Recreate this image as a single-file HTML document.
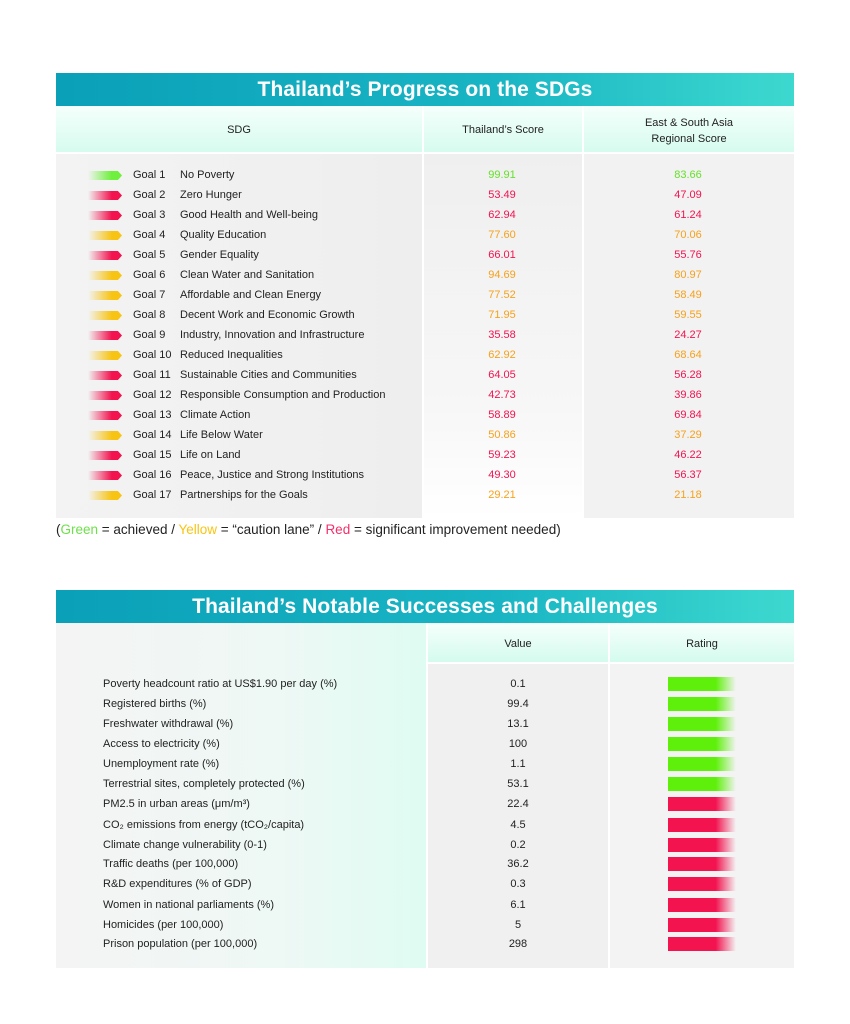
<!DOCTYPE html>
<html><head><meta charset="utf-8"><style>
body{margin:0;width:850px;height:1024px;background:#fff;position:relative;font-family:"Liberation Sans",sans-serif;overflow:hidden}
.ban{position:absolute;left:56px;width:738px;height:33px;background:linear-gradient(90deg,#0aa0b8,#19b5c4 60%,#3dd9cf);color:#fff;font-weight:bold;font-size:21px;text-align:center;line-height:34px;letter-spacing:0.1px}
.box{position:absolute}
.t{position:absolute;font-size:11px;color:#222;line-height:14px;white-space:nowrap}
.v{position:absolute;font-size:11px;line-height:14px;text-align:center;width:80px}
.g{color:#66e02a}.r{color:#f2134f}.y{color:#f7a11a}
.ar{position:absolute;left:88px;width:34px;height:9px;clip-path:polygon(0 0,88% 0,100% 50%,88% 100%,0 100%)}
.ag{background:linear-gradient(90deg,rgba(110,240,60,0),#6ef03c 70%)}
.agr{background:linear-gradient(90deg,rgba(242,19,79,0),#f2134f 70%)}
.ay{background:linear-gradient(90deg,rgba(248,196,20,0),#f8c414 70%)}
.bar{position:absolute;left:668px;width:68px;height:14px}
.bg{background:linear-gradient(90deg,#5ef00a 70%,rgba(94,240,10,0))}
.br{background:linear-gradient(90deg,#f2134f 70%,rgba(242,19,79,0))}
</style></head><body>
<div class="ban" style="top:73px">Thailand’s Progress on the SDGs</div>
<div class="box" style="left:56px;top:106px;width:366px;height:46px;background:linear-gradient(#f5fffc,#d6fbef)"></div>
<div class="box" style="left:424px;top:106px;width:158px;height:46px;background:linear-gradient(#f5fffc,#d6fbef)"></div>
<div class="box" style="left:584px;top:106px;width:210px;height:46px;background:linear-gradient(#f5fffc,#d6fbef)"></div>
<div class="t" style="left:56px;width:366px;text-align:center;top:123px">SDG</div>
<div class="t" style="left:424px;width:158px;text-align:center;top:123px">Thailand’s Score</div>
<div class="t" style="left:584px;width:210px;text-align:center;top:115px;line-height:16px;white-space:normal">East &amp; South Asia<br>Regional Score</div>
<div class="box" style="left:56px;top:154px;width:366px;height:364px;background:linear-gradient(90deg,#f3f3f3,#eeeeee)"></div>
<div class="box" style="left:424px;top:154px;width:158px;height:364px;background:linear-gradient(#efefef,#f7f7f7 70%,#fff)"></div>
<div class="box" style="left:584px;top:154px;width:210px;height:364px;background:#f2f2f2"></div>

<div class="ar ag" style="top:171px"></div><div class="t" style="left:133px;top:168px">Goal 1</div><div class="t" style="left:180px;top:168px">No Poverty</div><div class="v g" style="left:462px;top:168px">99.91</div><div class="v g" style="left:648px;top:168px">83.66</div>
<div class="ar agr" style="top:191px"></div><div class="t" style="left:133px;top:188px">Goal 2</div><div class="t" style="left:180px;top:188px">Zero Hunger</div><div class="v r" style="left:462px;top:188px">53.49</div><div class="v r" style="left:648px;top:188px">47.09</div>
<div class="ar agr" style="top:211px"></div><div class="t" style="left:133px;top:208px">Goal 3</div><div class="t" style="left:180px;top:208px">Good Health and Well-being</div><div class="v r" style="left:462px;top:208px">62.94</div><div class="v r" style="left:648px;top:208px">61.24</div>
<div class="ar ay" style="top:231px"></div><div class="t" style="left:133px;top:228px">Goal 4</div><div class="t" style="left:180px;top:228px">Quality Education</div><div class="v y" style="left:462px;top:228px">77.60</div><div class="v y" style="left:648px;top:228px">70.06</div>
<div class="ar agr" style="top:251px"></div><div class="t" style="left:133px;top:248px">Goal 5</div><div class="t" style="left:180px;top:248px">Gender Equality</div><div class="v r" style="left:462px;top:248px">66.01</div><div class="v r" style="left:648px;top:248px">55.76</div>
<div class="ar ay" style="top:271px"></div><div class="t" style="left:133px;top:268px">Goal 6</div><div class="t" style="left:180px;top:268px">Clean Water and Sanitation</div><div class="v y" style="left:462px;top:268px">94.69</div><div class="v y" style="left:648px;top:268px">80.97</div>
<div class="ar ay" style="top:291px"></div><div class="t" style="left:133px;top:288px">Goal 7</div><div class="t" style="left:180px;top:288px">Affordable and Clean Energy</div><div class="v y" style="left:462px;top:288px">77.52</div><div class="v y" style="left:648px;top:288px">58.49</div>
<div class="ar ay" style="top:311px"></div><div class="t" style="left:133px;top:308px">Goal 8</div><div class="t" style="left:180px;top:308px">Decent Work and Economic Growth</div><div class="v y" style="left:462px;top:308px">71.95</div><div class="v y" style="left:648px;top:308px">59.55</div>
<div class="ar agr" style="top:331px"></div><div class="t" style="left:133px;top:328px">Goal 9</div><div class="t" style="left:180px;top:328px">Industry, Innovation and Infrastructure</div><div class="v r" style="left:462px;top:328px">35.58</div><div class="v r" style="left:648px;top:328px">24.27</div>
<div class="ar ay" style="top:351px"></div><div class="t" style="left:133px;top:348px">Goal 10</div><div class="t" style="left:180px;top:348px">Reduced Inequalities</div><div class="v y" style="left:462px;top:348px">62.92</div><div class="v y" style="left:648px;top:348px">68.64</div>
<div class="ar agr" style="top:371px"></div><div class="t" style="left:133px;top:368px">Goal 11</div><div class="t" style="left:180px;top:368px">Sustainable Cities and Communities</div><div class="v r" style="left:462px;top:368px">64.05</div><div class="v r" style="left:648px;top:368px">56.28</div>
<div class="ar agr" style="top:391px"></div><div class="t" style="left:133px;top:388px">Goal 12</div><div class="t" style="left:180px;top:388px">Responsible Consumption and Production</div><div class="v r" style="left:462px;top:388px">42.73</div><div class="v r" style="left:648px;top:388px">39.86</div>
<div class="ar agr" style="top:411px"></div><div class="t" style="left:133px;top:408px">Goal 13</div><div class="t" style="left:180px;top:408px">Climate Action</div><div class="v r" style="left:462px;top:408px">58.89</div><div class="v r" style="left:648px;top:408px">69.84</div>
<div class="ar ay" style="top:431px"></div><div class="t" style="left:133px;top:428px">Goal 14</div><div class="t" style="left:180px;top:428px">Life Below Water</div><div class="v y" style="left:462px;top:428px">50.86</div><div class="v y" style="left:648px;top:428px">37.29</div>
<div class="ar agr" style="top:451px"></div><div class="t" style="left:133px;top:448px">Goal 15</div><div class="t" style="left:180px;top:448px">Life on Land</div><div class="v r" style="left:462px;top:448px">59.23</div><div class="v r" style="left:648px;top:448px">46.22</div>
<div class="ar agr" style="top:471px"></div><div class="t" style="left:133px;top:468px">Goal 16</div><div class="t" style="left:180px;top:468px">Peace, Justice and Strong Institutions</div><div class="v r" style="left:462px;top:468px">49.30</div><div class="v r" style="left:648px;top:468px">56.37</div>
<div class="ar ay" style="top:491px"></div><div class="t" style="left:133px;top:488px">Goal 17</div><div class="t" style="left:180px;top:488px">Partnerships for the Goals</div><div class="v y" style="left:462px;top:488px">29.21</div><div class="v y" style="left:648px;top:488px">21.18</div>

<div class="t" style="left:56px;top:522px;font-size:13.5px;line-height:16px">(<span style="color:#6ee04a">Green</span> = achieved / <span style="color:#f8c414">Yellow</span> = “caution lane” / <span style="color:#f2306a">Red</span> = significant improvement needed)</div>

<div class="ban" style="top:590px">Thailand’s Notable Successes and Challenges</div>
<div class="box" style="left:56px;top:623px;width:370px;height:345px;background:linear-gradient(90deg,#f4f4f4,#eef8f5 60%,#dffcf2)"></div>
<div class="box" style="left:428px;top:623px;width:180px;height:39px;background:linear-gradient(#f6fffc,#d4fbee)"></div>
<div class="box" style="left:610px;top:623px;width:184px;height:39px;background:linear-gradient(#f6fffc,#d4fbee)"></div>
<div class="box" style="left:428px;top:664px;width:180px;height:304px;background:#f0f0f0"></div>
<div class="box" style="left:610px;top:664px;width:184px;height:304px;background:#f3f3f3"></div>
<div class="t" style="left:428px;width:180px;text-align:center;top:637px">Value</div>
<div class="t" style="left:610px;width:184px;text-align:center;top:637px">Rating</div>

<div class="t" style="left:103px;top:677px">Poverty headcount ratio at US$1.90 per day (%)</div><div class="v" style="left:478px;top:677px;color:#222">0.1</div><div class="bar bg" style="top:677px"></div>
<div class="t" style="left:103px;top:697px">Registered births (%)</div><div class="v" style="left:478px;top:697px;color:#222">99.4</div><div class="bar bg" style="top:697px"></div>
<div class="t" style="left:103px;top:717px">Freshwater withdrawal (%)</div><div class="v" style="left:478px;top:717px;color:#222">13.1</div><div class="bar bg" style="top:717px"></div>
<div class="t" style="left:103px;top:737px">Access to electricity (%)</div><div class="v" style="left:478px;top:737px;color:#222">100</div><div class="bar bg" style="top:737px"></div>
<div class="t" style="left:103px;top:757px">Unemployment rate (%)</div><div class="v" style="left:478px;top:757px;color:#222">1.1</div><div class="bar bg" style="top:757px"></div>
<div class="t" style="left:103px;top:777px">Terrestrial sites, completely protected (%)</div><div class="v" style="left:478px;top:777px;color:#222">53.1</div><div class="bar bg" style="top:777px"></div>
<div class="t" style="left:103px;top:797px">PM2.5 in urban areas (μm/m³)</div><div class="v" style="left:478px;top:797px;color:#222">22.4</div><div class="bar br" style="top:797px"></div>
<div class="t" style="left:103px;top:818px">CO₂ emissions from energy (tCO₂/capita)</div><div class="v" style="left:478px;top:818px;color:#222">4.5</div><div class="bar br" style="top:818px"></div>
<div class="t" style="left:103px;top:838px">Climate change vulnerability (0-1)</div><div class="v" style="left:478px;top:838px;color:#222">0.2</div><div class="bar br" style="top:838px"></div>
<div class="t" style="left:103px;top:857px">Traffic deaths (per 100,000)</div><div class="v" style="left:478px;top:857px;color:#222">36.2</div><div class="bar br" style="top:857px"></div>
<div class="t" style="left:103px;top:877px">R&amp;D expenditures (% of GDP)</div><div class="v" style="left:478px;top:877px;color:#222">0.3</div><div class="bar br" style="top:877px"></div>
<div class="t" style="left:103px;top:898px">Women in national parliaments (%)</div><div class="v" style="left:478px;top:898px;color:#222">6.1</div><div class="bar br" style="top:898px"></div>
<div class="t" style="left:103px;top:918px">Homicides (per 100,000)</div><div class="v" style="left:478px;top:918px;color:#222">5</div><div class="bar br" style="top:918px"></div>
<div class="t" style="left:103px;top:937px">Prison population (per 100,000)</div><div class="v" style="left:478px;top:937px;color:#222">298</div><div class="bar br" style="top:937px"></div>
</body></html>
